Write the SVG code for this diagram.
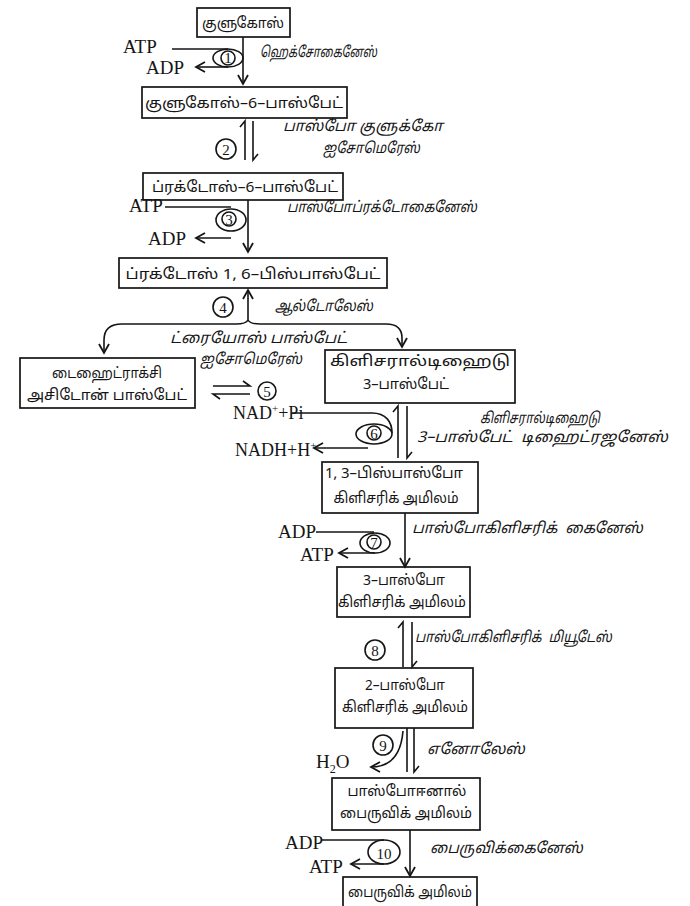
<svg xmlns="http://www.w3.org/2000/svg" width="690" height="906" viewBox="0 0 690 906">
<style>
.box{fill:#fff;stroke:#151515;stroke-width:1.7}
.ln{fill:none;stroke:#151515;stroke-width:1.6}
.t{font-family:"Noto Sans Tamil","Lohit Tamil","Noto Sans","DejaVu Sans",sans-serif;font-size:15px;fill:#151515;text-anchor:middle}
.e{font-family:"Noto Sans Tamil","Lohit Tamil","Noto Sans","DejaVu Sans",sans-serif;font-size:15px;font-style:italic;fill:#151515;white-space:pre}
.c{font-family:"Liberation Serif","Times New Roman",serif;fill:#151515}
.n{font-family:"Liberation Serif","Times New Roman",serif;font-size:15px;fill:#151515;text-anchor:middle}
</style>
<defs>
<marker id="ah" markerWidth="12" markerHeight="12" refX="10" refY="6" orient="auto" markerUnits="userSpaceOnUse">
<path d="M1,1 L10,6 L1,11" fill="none" stroke="#151515" stroke-width="1.8"/>
</marker>
</defs>
<rect width="690" height="906" fill="#fff"/>

<g id="nodes">
<g id="glucose"><rect class="box" x="197" y="8" width="93" height="29"/><text class="t" x="243" y="28" textLength="82" lengthAdjust="spacingAndGlyphs">குளுகோஸ்</text></g>
<g id="g6p"><rect class="box" x="142" y="87" width="205" height="31"/><text class="t" x="244" y="108" textLength="198" lengthAdjust="spacingAndGlyphs">குளுகோஸ்–6–பாஸ்பேட்</text></g>
<g id="f6p"><rect class="box" x="143" y="173" width="200" height="27"/><text class="t" x="245" y="192" textLength="186" lengthAdjust="spacingAndGlyphs">ப்ரக்டோஸ்–6–பாஸ்பேட்</text></g>
<g id="f16bp"><rect class="box" x="119" y="258" width="268" height="30"/><text class="t" x="253" y="279" textLength="255" lengthAdjust="spacingAndGlyphs">ப்ரக்டோஸ் 1, 6–பிஸ்பாஸ்பேட்</text></g>
<g id="dhap"><rect class="box" x="20" y="358" width="175" height="50"/><text class="t" x="107" y="378" textLength="110" lengthAdjust="spacingAndGlyphs">டைஹைட்ராக்சி</text><text class="t" x="107" y="400" textLength="160" lengthAdjust="spacingAndGlyphs">அசிடோன் பாஸ்பேட்</text></g>
<g id="g3p"><rect class="box" x="325" y="350" width="190" height="53"/><text class="t" x="420" y="366" textLength="180" lengthAdjust="spacingAndGlyphs">கிளிசரால்டிஹைடு</text><text class="t" x="406" y="389" textLength="86" lengthAdjust="spacingAndGlyphs">3–பாஸ்பேட்</text></g>
<g id="bpg"><rect class="box" x="322" y="462" width="156" height="51"/><text class="t" x="394" y="478" textLength="138" lengthAdjust="spacingAndGlyphs">1, 3–பிஸ்பாஸ்போ</text><text class="t" x="396" y="503" textLength="125" lengthAdjust="spacingAndGlyphs">கிளிசரிக் அமிலம்</text></g>
<g id="pg3"><rect class="box" x="337" y="567" width="133" height="50"/><text class="t" x="404" y="585" textLength="82" lengthAdjust="spacingAndGlyphs">3–பாஸ்போ</text><text class="t" x="402" y="607" textLength="128" lengthAdjust="spacingAndGlyphs">கிளிசரிக் அமிலம்</text></g>
<g id="pg2"><rect class="box" x="335" y="668" width="138" height="60"/><text class="t" x="405" y="690" textLength="80" lengthAdjust="spacingAndGlyphs">2–பாஸ்போ</text><text class="t" x="405" y="712" textLength="126" lengthAdjust="spacingAndGlyphs">கிளிசரிக் அமிலம்</text></g>
<g id="pep"><rect class="box" x="332" y="778" width="148" height="52"/><text class="t" x="407" y="796" textLength="119" lengthAdjust="spacingAndGlyphs">பாஸ்போஈனால்</text><text class="t" x="406" y="818" textLength="132" lengthAdjust="spacingAndGlyphs">பைருவிக் அமிலம்</text></g>
<g id="pyruvate"><rect class="box" x="343" y="877" width="134" height="34"/><text class="t" x="410" y="897" textLength="124" lengthAdjust="spacingAndGlyphs">பைருவிக் அமிலம்</text></g>
</g>

<g id="connectors">
<!-- step 1 -->
<path class="ln" d="M243,37 V84" marker-end="url(#ah)"/>
<path class="ln" d="M172,49 H228"/>
<ellipse class="ln" cx="228" cy="58" rx="15" ry="9"/>
<path class="ln" d="M228,67 H196" marker-end="url(#ah)"/>
<!-- step 2 -->
<path class="ln" d="M245,160 V121 L240,127"/>
<path class="ln" d="M253,121 V160 L258,154"/>
<!-- step 3 -->
<path class="ln" d="M248,200 V252" marker-end="url(#ah)"/>
<path class="ln" d="M165,207 H231"/>
<ellipse class="ln" cx="231" cy="220" rx="15" ry="11"/>
<path class="ln" d="M231,238 H196" marker-end="url(#ah)"/>
<!-- step 4 -->
<path class="ln" d="M248,320 V290" marker-end="url(#ah)"/>
<path class="ln" d="M248,320 Q246,324 236,324 H122 Q104,324 104,340 V353" marker-end="url(#ah)"/>
<path class="ln" d="M248,320 Q250,324 260,324 H386 Q402,324 402,338 V347" marker-end="url(#ah)"/>
<!-- step 5 -->
<path class="ln" d="M213,386 H250 L243,381"/>
<path class="ln" d="M250,394 H213 L220,399"/>
<!-- step 6 -->
<path class="ln" d="M398,458 V406 L393,412"/>
<path class="ln" d="M407,406 V458 L412,452"/>
<path class="ln" d="M292,413 H372 C386,413 392,422 392,433"/>
<ellipse class="ln" cx="374" cy="434" rx="18" ry="10"/>
<path class="ln" d="M368,448 H314" marker-end="url(#ah)"/>
<!-- step 7 -->
<path class="ln" d="M405,513 V567" marker-end="url(#ah)"/>
<path class="ln" d="M316,532 H374"/>
<ellipse class="ln" cx="375" cy="543" rx="15" ry="10"/>
<path class="ln" d="M375,553 H339" marker-end="url(#ah)"/>
<!-- step 8 -->
<path class="ln" d="M403,667 V622 L398,628"/>
<path class="ln" d="M412,622 V667 L417,661"/>
<!-- step 9 -->
<path class="ln" d="M407,728 V772"/>
<path class="ln" d="M414,728 V772 L419,766"/>
<path class="ln" d="M403,731 C401,756 390,767 371,767" marker-end="url(#ah)"/>
<!-- step 10 -->
<path class="ln" d="M410,830 V876" marker-end="url(#ah)"/>
<path class="ln" d="M322,840 H384"/>
<ellipse class="ln" cx="384" cy="852" rx="16" ry="12"/>
<path class="ln" d="M384,864 H351" marker-end="url(#ah)"/>
</g>

<g id="step-numbers">
<text class="n" x="228" y="63">1</text><circle class="ln" cx="228" cy="58" r="7" stroke-width="1.2"/>
<circle class="ln" cx="226" cy="149" r="10"/><text class="n" x="226" y="155">2</text>
<circle class="ln" cx="229" cy="219" r="7" stroke-width="1.2"/><text class="n" x="229" y="225">3</text>
<circle class="ln" cx="223" cy="307" r="10"/><text class="n" x="223" y="313">4</text>
<circle class="ln" cx="267" cy="391" r="9"/><text class="n" x="267" y="397">5</text>
<circle class="ln" cx="374" cy="433" r="7" stroke-width="1.2"/><text class="n" x="374" y="439">6</text>
<circle class="ln" cx="374" cy="542" r="7" stroke-width="1.2"/><text class="n" x="374" y="548">7</text>
<circle class="ln" cx="375" cy="650" r="10"/><text class="n" x="375" y="656">8</text>
<circle class="ln" cx="383" cy="745" r="10"/><text class="n" x="383" y="751">9</text>
<text class="n" x="384" y="859" font-size="18">10</text>
</g>

<g id="cofactors">
<text class="c" x="123" y="53" font-size="19">ATP</text>
<text class="c" x="146" y="74" font-size="19">ADP</text>
<text class="c" x="129" y="212" font-size="19">ATP</text>
<text class="c" x="148" y="245" font-size="19">ADP</text>
<text class="c" x="233" y="419" font-size="18">NAD<tspan font-size="11" dy="-7">+</tspan><tspan dy="7">+Pi</tspan></text>
<text class="c" x="235" y="456" font-size="18">NADH+H<tspan font-size="11" dy="-7">+</tspan></text>
<text class="c" x="278" y="538" font-size="19">ADP</text>
<text class="c" x="300" y="561" font-size="19">ATP</text>
<text class="c" x="316" y="768" font-size="19">H<tspan font-size="12" dy="5">2</tspan><tspan dy="-5">O</tspan></text>
<text class="c" x="285" y="849" font-size="19">ADP</text>
<text class="c" x="309" y="873" font-size="19">ATP</text>
</g>

<g id="enzymes">
<text class="e" x="260" y="57" textLength="117" lengthAdjust="spacingAndGlyphs">ஹெக்சோகைனேஸ்</text>
<text class="e" x="283" y="131" textLength="160" lengthAdjust="spacingAndGlyphs">பாஸ்போ குளுக்கோ</text>
<text class="e" x="323" y="153" textLength="97" lengthAdjust="spacingAndGlyphs">ஐசோமெரேஸ்</text>
<text class="e" x="287" y="212" textLength="190" lengthAdjust="spacingAndGlyphs">பாஸ்போப்ரக்டோகைனேஸ்</text>
<text class="e" x="275" y="311" textLength="98" lengthAdjust="spacingAndGlyphs">ஆல்டோலேஸ்</text>
<text class="e" x="170" y="343" textLength="177" lengthAdjust="spacingAndGlyphs">ட்ரையோஸ் பாஸ்பேட்</text>
<text class="e" x="200" y="364" textLength="102" lengthAdjust="spacingAndGlyphs">ஐசோமெரேஸ்</text>
<text class="e" x="480" y="423" textLength="120" lengthAdjust="spacingAndGlyphs">கிளிசரால்டிஹைடு</text>
<text class="e" x="417" y="442" textLength="251" lengthAdjust="spacingAndGlyphs">3–பாஸ்பேட்  டிஹைட்ரஜனேஸ்</text>
<text class="e" x="412" y="533" textLength="231" lengthAdjust="spacingAndGlyphs">பாஸ்போகிளிசரிக்  கைனேஸ்</text>
<text class="e" x="415" y="642" textLength="197" lengthAdjust="spacingAndGlyphs">பாஸ்போகிளிசரிக்  மியூடேஸ்</text>
<text class="e" x="427" y="754" textLength="98" lengthAdjust="spacingAndGlyphs">எனோலேஸ்</text>
<text class="e" x="430" y="853" textLength="153" lengthAdjust="spacingAndGlyphs">பைருவிக்கைனேஸ்</text>
</g>
</svg>
